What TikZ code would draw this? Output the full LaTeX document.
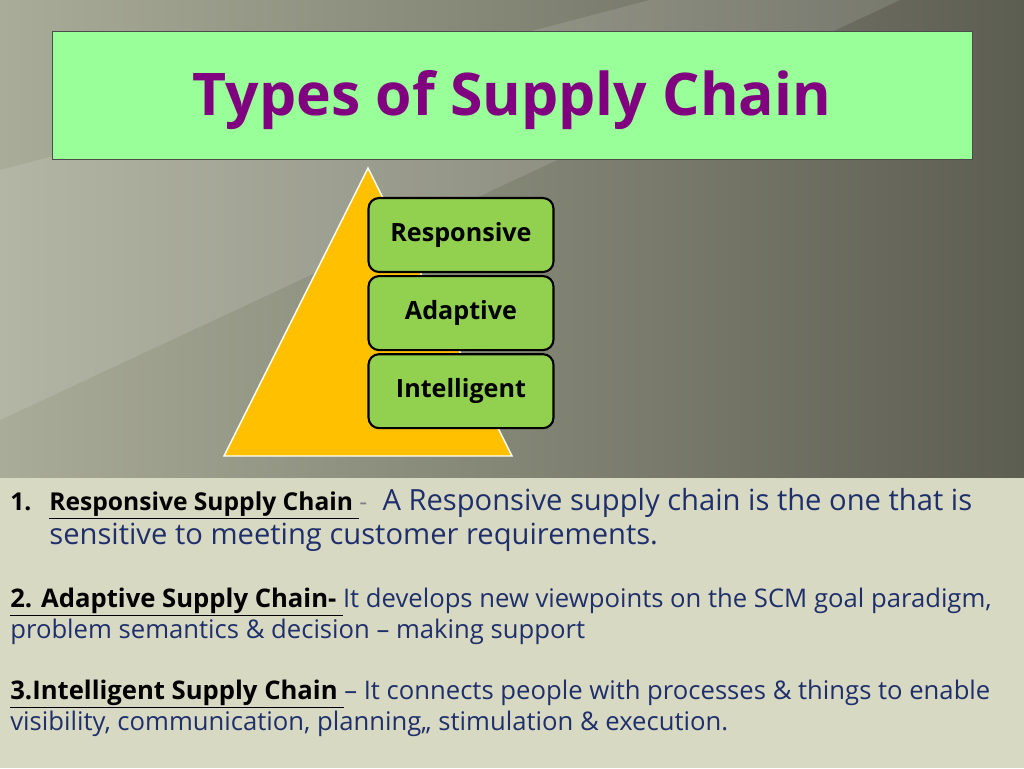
\documentclass[tikz,border=0pt]{standalone}
\usepackage{fontspec}
\setmainfont{Open Sans}
\usetikzlibrary{positioning}
\definecolor{titlegreen}{HTML}{99FF99}
\definecolor{titlepurple}{HTML}{800080}
\definecolor{boxgreen}{HTML}{92D050}
\definecolor{pyramid}{HTML}{FFC000}
\definecolor{navy}{HTML}{1F2F6B}
\definecolor{lowerbg}{HTML}{D8D9C3}
\definecolor{bgleft}{HTML}{A9AC98}
\definecolor{bgright}{HTML}{5D5E52}
\tikzset{
  level/.style={draw=black, very thick, fill=boxgreen, rounded corners=6pt,
    minimum width=3.7cm, minimum height=1.48cm, font=\fontsize{14.3}{16}\selectfont\bfseries},
  para/.style={anchor=base west, text=navy, font=\fontsize{14.6}{17}\selectfont, inner sep=0pt},
}
\newcommand{\headbit}[1]{\textcolor{black}{\bfseries\underline{#1}}}
\begin{document}
\begin{tikzpicture}[x=0.02cm, y=-0.02cm]
  \useasboundingbox (0,0) rectangle (1024,768);
  % background
  \shade[left color=bgleft, right color=bgright] (0,0) rectangle (1024,478);
  \fill[white, opacity=0.12] (0,170) -- (650,0) -- (900,0) -- (0,420) -- cycle;
  \fill[lowerbg] (0,478) rectangle (1024,768);
  % title
  \filldraw[draw=black!70, fill=titlegreen] (52,31) rectangle (972,159);
  \node[text=titlepurple, font=\fontsize{33.5}{38}\selectfont\bfseries] (title) at (512,100) {Types of Supply Chain};
  % pyramid
  \filldraw[fill=pyramid, draw=white, thick] (368,168) -- (512,456) -- (224,456) -- cycle;
  \node[level] (resp) at (461,235) {Responsive};
  \node[level, below=0.04cm of resp] (adap) {Adaptive};
  \node[level, below=0.04cm of adap] (intel) {Intelligent};
  % text
  \node[para, font=\fontsize{14}{17}\selectfont\bfseries, text=black] (n1) at (10,510) {1.};
  \node[para, font=\fontsize{16.6}{20}\selectfont] (p1) at (49,510)
    {\headbit{\fontsize{14}{17}\selectfont Responsive Supply Chain }\textcolor{gray}{\fontsize{14}{17}\selectfont -}\ \ A Responsive supply chain is the one that is};
  \node[para, font=\fontsize{16.6}{20}\selectfont] (p1b) at (49,544) {sensitive to meeting customer requirements.};
  \node[para] (p2) at (10,607) {\headbit{2. Adaptive Supply Chain- }It develops new viewpoints on the SCM goal paradigm,};
  \node[para] (p2b) at (10,638) {problem semantics \& decision -- making support};
  \node[para] (p3) at (10,699) {\headbit{3.Intelligent Supply Chain }-- It connects people with processes \& things to enable};
  \node[para] (p3b) at (10,730) {visibility, communication, planning,, stimulation \& execution.};
\end{tikzpicture}
\end{document}
